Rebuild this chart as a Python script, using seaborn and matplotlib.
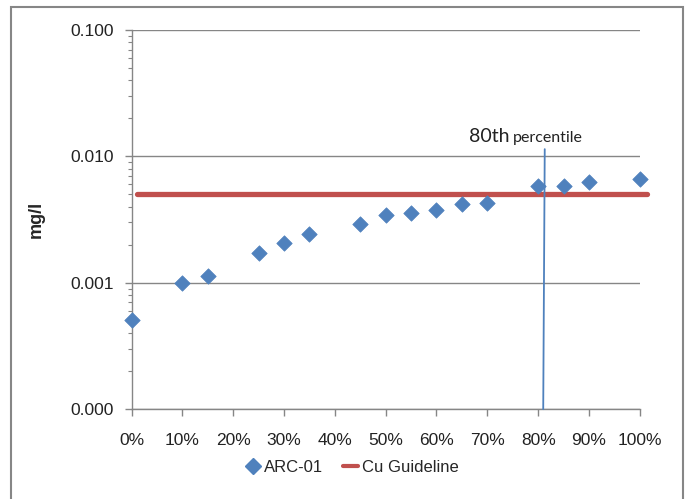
import matplotlib
matplotlib.use("Agg")
import matplotlib.pyplot as plt
import matplotlib.ticker as mticker
from matplotlib.patches import Rectangle
from matplotlib.lines import Line2D
import seaborn as sns
import pandas as pd

# data
percentil = [0.00, 0.10, 0.15, 0.25, 0.30, 0.35, 0.45, 0.50, 0.55, 0.60, 0.65, 0.70, 0.80, 0.85, 0.90, 1.00]
cobre_mgl = [0.00051, 0.0010, 0.00113, 0.00173, 0.00207, 0.00245, 0.00293, 0.00345, 0.00358, 0.00378,
             0.00418, 0.00425, 0.00578, 0.00588, 0.00625, 0.00662]
guia_x = [0.01, 1.014]
guia_y = [0.005, 0.005]
p80_x = [0.810, 0.813]
p80_y = [0.0001, 0.0114]

azul = "#4F81BD"
vermelho = "#C0504D"

sns.set_style("white")
plt.rcParams["font.family"] = ["Liberation Sans", "DejaVu Sans"]

df = pd.DataFrame({"x": percentil, "y": cobre_mgl})
df_guia = pd.DataFrame({"x": guia_x, "y": guia_y})
df_p80 = pd.DataFrame({"x": p80_x, "y": p80_y})

fig = plt.figure(figsize=(6.85, 4.99), dpi=100)
ax = fig.add_axes([0.192, 0.180, 0.742, 0.760])

sns.lineplot(data=df_guia, x="x", y="y", color=vermelho, lw=3.8, ax=ax, zorder=2, clip_on=False)
sns.lineplot(data=df_p80, x="x", y="y", color=azul, lw=1.3, ax=ax, zorder=3, clip_on=False)
sns.scatterplot(data=df, x="x", y="y", marker="D", s=62, color=azul, edgecolor=azul,
                linewidth=0.5, ax=ax, zorder=4, clip_on=False)

ax.set_yscale("log")
ax.set_ylim(0.0001, 0.1)
ax.set_xlim(0, 1.0)
ax.set_xticks([i / 10 for i in range(11)])
ax.xaxis.set_major_formatter(mticker.PercentFormatter(1.0, decimals=0))
ax.yaxis.set_major_locator(mticker.LogLocator(base=10, numticks=10))
ax.yaxis.set_major_formatter(mticker.FormatStrFormatter("%.3f"))
ax.yaxis.set_minor_locator(mticker.LogLocator(base=10, subs=range(2, 10), numticks=20))
ax.yaxis.set_minor_formatter(mticker.NullFormatter())

ax.grid(True, which="major", axis="y", color="#868686", lw=1)
for lado in ["top", "right"]:
    ax.spines[lado].set_visible(False)
for lado in ["left", "bottom"]:
    ax.spines[lado].set_color("#868686")
    ax.spines[lado].set_linewidth(1)

ax.tick_params(axis="both", which="major", length=5, width=1, color="#868686",
               labelsize=12.5, labelcolor="#222222")
ax.tick_params(axis="y", which="minor", length=3, width=0.8, color="#868686", left=True)
ax.tick_params(axis="y", which="major", pad=8, left=True)
ax.tick_params(axis="x", which="major", pad=12, bottom=True)

ax.set_xlabel("")
ax.set_ylabel("mg/l", fontsize=13, fontweight="bold")
ax.yaxis.set_label_coords(-0.170, 0.5)

fig.text(0.685, 0.716, "80th", fontsize=14, family=["Lato", "DejaVu Sans"], va="baseline", color="#222222")
fig.text(0.749, 0.716, "percentile", fontsize=11.5, family=["Lato", "DejaVu Sans"], va="baseline", color="#222222")

handles = [
    Line2D([], [], marker="D", color=azul, ls="none", markersize=8),
    Line2D([], [], color=vermelho, lw=3),
]
fig.legend(handles, ["ARC-01", "Cu Guideline"], loc="center", bbox_to_anchor=(0.514, 0.064),
           ncol=2, frameon=False, fontsize=12, handlelength=0.9, handletextpad=0.2,
           columnspacing=1.2)

fig.patches.append(Rectangle((0.016, -0.05), 0.981, 1.036, transform=fig.transFigure,
                             fill=False, edgecolor="#868686", lw=1.5))

fig.savefig("out.png", dpi=100)
